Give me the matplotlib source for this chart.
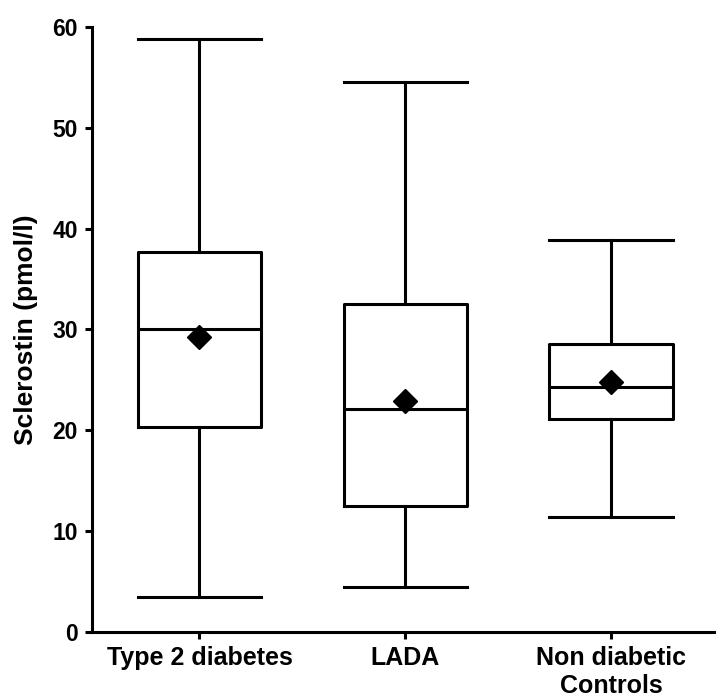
import matplotlib
matplotlib.use('Agg')
import matplotlib.pyplot as plt

groups = ['Type 2 diabetes', 'LADA', 'Non diabetic\nControls']
whislo = [3.5, 4.5, 11.4]
q1 = [20.3, 12.5, 21.1]
med = [30.0, 22.1, 24.3]
q3 = [37.7, 32.5, 28.6]
whishi = [58.8, 54.5, 38.9]
means = [29.3, 22.9, 24.8]

plt.rcParams['font.family'] = ['Liberation Sans', 'DejaVu Sans']
plt.rcParams['font.weight'] = 'bold'

fig = plt.figure(figsize=(7.16, 6.98), dpi=100)
ax = fig.add_axes([0.128, 0.0946, 0.872, 0.8667])

stats = []
for i in range(len(groups)):
    stats.append({'whislo': whislo[i], 'q1': q1[i], 'med': med[i], 'q3': q3[i],
                  'whishi': whishi[i], 'mean': means[i], 'label': groups[i]})

lw = 2.2
ax.bxp(stats, positions=[1, 2, 3], widths=0.6, showmeans=True, showfliers=False,
       boxprops=dict(color='black', linewidth=lw),
       medianprops=dict(color='black', linewidth=lw),
       whiskerprops=dict(color='black', linewidth=lw),
       capprops=dict(color='black', linewidth=lw),
       capwidths=0.6,
       meanprops=dict(marker='D', markerfacecolor='black', markeredgecolor='black', markersize=12))

ax.set_xlim(0.476, 3.51)
ax.set_ylim(0, 60)
ax.set_yticks(range(0, 61, 10))
ax.set_ylabel('Sclerostin (pmol/l)', fontsize=19, fontweight='bold')
ax.yaxis.set_label_coords(-0.086, 0.5)
ax.spines['top'].set_visible(False)
ax.spines['right'].set_visible(False)
ax.spines['left'].set_linewidth(lw)
ax.spines['bottom'].set_linewidth(lw)
ax.tick_params(axis='both', width=lw, length=5, pad=5)
ax.tick_params(axis='x', labelsize=18)
ax.tick_params(axis='y', labelsize=16.5)
for lab in ax.get_xticklabels() + ax.get_yticklabels():
    lab.set_fontweight('bold')

fig.savefig('out.png', dpi=100)
